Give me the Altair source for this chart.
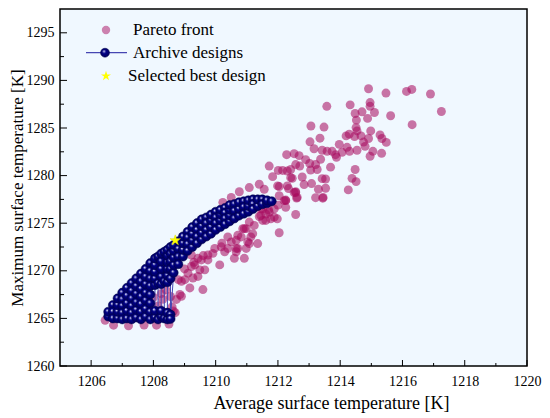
import altair as alt
import pandas as pd

# ---------------- data ----------------
pareto_x = [
    1214.91, 1215.47, 1216.13, 1216.30, 1216.90, 1217.25, 1216.31, 1215.62, 1213.57, 1214.32,
    1214.96, 1214.96, 1214.70, 1214.48, 1215.10, 1214.88, 1214.52, 1214.51, 1214.54, 1214.19,
    1214.29, 1214.46, 1214.67, 1214.98, 1215.28, 1215.34, 1215.48, 1214.91, 1214.75, 1214.80,
    1215.05, 1215.33, 1214.96, 1214.54, 1214.30, 1214.06, 1214.22, 1213.97, 1213.85, 1213.88,
    1213.74, 1213.58, 1213.42, 1213.16, 1213.03, 1213.35, 1213.06, 1213.48, 1213.37, 1213.69,
    1214.48, 1214.38, 1214.51, 1214.26, 1213.53, 1213.42, 1213.53, 1213.30, 1213.44, 1213.21,
    1213.08, 1212.84, 1212.78, 1212.57, 1212.60, 1212.57, 1212.25, 1212.25, 1212.34, 1212.46,
    1212.41, 1212.57, 1212.70, 1213.05, 1213.26, 1213.21, 1213.02, 1212.89, 1212.68, 1212.52,
    1212.28, 1212.15, 1212.01, 1212.04, 1212.04, 1211.98, 1212.04,
    1211.72, 1212.30, 1211.83, 1212.41, 1211.40, 1211.99, 1211.08, 1212.30, 1211.56, 1210.76,
    1212.52, 1212.20, 1211.88, 1211.61, 1211.24, 1211.19, 1211.35, 1210.66, 1210.98, 1210.60,
    1210.18, 1210.29, 1209.75, 1210.66, 1210.87, 1211.45, 1211.45, 1211.72,
    1212.25, 1212.62, 1212.57, 1213.45, 1211.77, 1211.88, 1211.61, 1211.51, 1211.08, 1210.98,
    1210.82, 1211.03,
    1211.13, 1211.08, 1210.71, 1210.66, 1210.92, 1210.50, 1210.13, 1209.75, 1209.43, 1209.22,
    1209.91, 1209.59, 1209.17, 1208.90, 1209.27, 1209.49, 1209.22, 1208.90, 1210.39, 1209.97,
    1210.71, 1210.39, 1210.92, 1211.51,
    1209.33, 1209.54, 1208.85, 1208.74, 1208.80, 1209.01, 1209.11, 1209.43, 1209.65, 1206.72,
    1207.20, 1208.10, 1208.64,
    1209.00, 1209.30, 1209.60, 1210.20, 1211.40, 1211.70, 1212.00, 1208.30, 1208.15, 1208.40,
    1208.25, 1208.60, 1208.55, 1208.70, 1207.70, 1208.50, 1206.45, 1210.50, 1210.23, 1208.00,
    1208.45,
]
pareto_y = [
    1289.12, 1288.67, 1288.84, 1289.05, 1288.57, 1286.73, 1285.35, 1286.29, 1287.28, 1287.43,
    1287.67, 1287.28, 1286.70, 1286.52, 1286.63, 1286.01, 1285.83, 1285.04, 1284.69, 1284.17,
    1284.35, 1284.11, 1284.17, 1284.69, 1284.27, 1283.90, 1283.49, 1283.90, 1283.52, 1283.07,
    1282.55, 1282.34, 1282.03, 1282.66, 1282.55, 1282.45, 1282.97, 1283.28, 1282.20, 1281.93,
    1282.55, 1282.55, 1282.66, 1282.82, 1283.55, 1283.93, 1285.21, 1285.10, 1281.72, 1280.89,
    1280.64, 1279.71, 1279.37, 1278.50, 1279.64, 1279.68, 1278.67, 1278.57, 1277.63, 1277.68,
    1279.16, 1279.06, 1279.85, 1278.30, 1277.64, 1275.91, 1277.43, 1276.67, 1278.64, 1279.71,
    1280.64, 1281.16, 1281.00, 1280.58, 1280.64, 1281.16, 1281.27, 1281.68, 1282.10, 1282.30,
    1282.20, 1280.54, 1280.54, 1278.85, 1277.88, 1275.46, 1274.00,
    1281.00, 1280.48, 1279.89, 1279.78, 1279.09, 1278.92, 1278.74, 1278.92, 1278.57, 1278.30,
    1278.22, 1277.37, 1276.50, 1275.29, 1274.77, 1273.90, 1272.86, 1273.21, 1272.35, 1271.31,
    1272.52, 1272.00, 1271.66, 1272.35, 1274.43, 1276.50, 1275.81, 1276.15,
    1277.37, 1277.71, 1278.22, 1277.71, 1275.46, 1275.63, 1275.97, 1276.50, 1275.12, 1274.43,
    1273.56, 1273.04,
    1273.56, 1272.86, 1272.35, 1272.00, 1271.31, 1273.04, 1270.62, 1271.14, 1271.31, 1271.66,
    1271.83, 1268.03, 1268.20, 1268.89, 1269.24, 1270.10, 1270.45, 1267.33, 1272.35, 1272.35,
    1273.73, 1273.56, 1274.43, 1275.29,
    1270.62, 1271.14, 1267.51, 1266.99, 1269.07, 1269.07, 1269.75, 1269.41, 1270.10, 1264.29,
    1264.22, 1264.29, 1265.78,
    1270.20, 1270.90, 1271.60, 1272.90, 1275.70, 1276.40, 1276.90, 1267.00, 1266.30, 1268.00,
    1267.60, 1266.20, 1267.30, 1265.60, 1264.30, 1264.40, 1264.80, 1277.71, 1277.19, 1267.20,
    1265.60,
]

# archive designs, in the order the connecting line visits them
archive_x = (
    [1206.55] * 2 + [1206.70] * 3 + [1206.85] * 4 + [1207.00] * 5 + [1207.15] * 5
    + [1207.30] * 6 + [1207.45] * 6 + [1207.60] * 7 + [1207.75] * 7 + [1207.90] * 8
    + [1208.05] * 7 + [1208.15] * 3 + [1208.25] * 7 + [1208.35] * 3 + [1208.45] * 8
    + [1208.55] * 7 + [1208.65] * 5 + [1208.80] * 4 + [1208.95] * 4 + [1209.10] * 4
    + [1209.25] * 4 + [1209.40] * 4 + [1209.55] * 4 + [1209.70] * 4 + [1209.85] * 4
    + [1210.00] * 4 + [1210.15] * 4 + [1210.30] * 4 + [1210.45] * 4 + [1210.60] * 3
    + [1210.75] * 3 + [1210.90] * 3 + [1211.05] * 3 + [1211.20] * 3 + [1211.35] * 2
    + [1211.50] * 2 + [1211.65] * 2 + [1211.80] * 1
)
archive_y = [
    1265.2, 1265.7,
    1266.4, 1265.7, 1265.0,
    1265.0, 1265.7, 1266.4, 1267.1,
    1267.7, 1267.0, 1266.3, 1265.6, 1264.9,
    1265.0, 1265.8, 1266.6, 1267.4, 1268.2,
    1268.7, 1267.9, 1267.1, 1266.3, 1265.6, 1264.9,
    1265.1, 1265.9, 1266.7, 1267.6, 1268.4, 1269.2,
    1269.7, 1268.9, 1268.1, 1267.3, 1266.5, 1265.7, 1264.9,
    1265.2, 1266.0, 1266.9, 1267.7, 1268.6, 1269.4, 1270.2,
    1270.8, 1270.0, 1269.2, 1268.4, 1267.5, 1266.6, 1265.7, 1264.9,
    1265.1, 1265.8, 1268.5, 1269.2, 1269.9, 1270.6, 1271.3,
    1271.5, 1268.7, 1264.9,
    1265.2, 1265.8, 1268.6, 1269.4, 1270.2, 1271.0, 1271.8,
    1272.0, 1268.9, 1265.0,
    1264.9, 1265.6, 1268.8, 1269.5, 1270.2, 1270.9, 1271.6, 1272.2,
    1272.5, 1271.8, 1271.0, 1270.2, 1269.2, 1265.4, 1264.95,
    1269.8, 1270.6, 1271.4, 1272.1, 1272.7,
    1273.1, 1272.3, 1271.5, 1270.7,
    1271.5, 1272.2, 1272.9, 1273.6,
    1274.1, 1273.5, 1272.8, 1272.1,
    1272.5, 1273.2, 1273.9, 1274.6,
    1275.0, 1274.3, 1273.6, 1272.9,
    1273.3, 1274.0, 1274.7, 1275.4,
    1275.6, 1275.0, 1274.3, 1273.6,
    1273.9, 1274.6, 1275.3, 1275.9,
    1276.2, 1275.6, 1275.0, 1274.3,
    1274.6, 1275.3, 1275.9, 1276.4,
    1276.6, 1276.1, 1275.5, 1274.9,
    1275.2, 1275.8, 1276.4, 1276.9,
    1277.0, 1276.3, 1275.5,
    1275.8, 1276.5, 1277.2,
    1277.3, 1276.7, 1276.0,
    1276.2, 1276.8, 1277.4,
    1277.5, 1277.0, 1276.5,
    1276.8, 1277.5,
    1277.5, 1277.0,
    1277.1, 1277.4,
    1277.3,
]

best_x = [1208.70]
best_y = [1273.20]

x_major = [1206, 1208, 1210, 1212, 1214, 1216, 1218, 1220]
x_minor = [1207, 1209, 1211, 1213, 1215, 1217, 1219]
y_major = [1260, 1265, 1270, 1275, 1280, 1285, 1290, 1295]
y_minor = [1262.5, 1267.5, 1272.5, 1277.5, 1282.5, 1287.5, 1292.5]

legend_labels = ["Pareto front", "Archive designs", "Selected best design"]

# ---------------- styling ----------------
W, H = 467, 357
SERIF = "Liberation Serif"
PINK = "#a80a5f"
LINE = "#4646b2"
STAR = "M0,-1L0.2245,-0.309L0.951,-0.309L0.3633,0.118L0.5878,0.809L0,0.382L-0.5878,0.809L-0.3633,0.118L-0.951,-0.309L-0.2245,-0.309Z"
NAVY_GRAD = {
    "gradient": "radial",
    "x1": 0.36, "y1": 0.32, "r1": 0,
    "x2": 0.5, "y2": 0.5, "r2": 0.5,
    "stops": [
        {"offset": 0.0, "color": "#ffffff"},
        {"offset": 0.15, "color": "#a0a0dc"},
        {"offset": 0.38, "color": "#000088"},
        {"offset": 1.0, "color": "#000060"},
    ],
}

xs = alt.Scale(domain=[1205, 1220], nice=False, zero=False)
ys = alt.Scale(domain=[1260, 1297.5], nice=False, zero=False)

x_axis = alt.Axis(
    values=x_major, format="d", title="Average surface temperature [K]",
    ticks=False, domain=False, grid=False, labelPadding=8, labelFontSize=14,
    labelFlush=False, labelOverlap=False, titleFontSize=18, titleFontWeight="normal",
    titlePadding=6, titleX=271,
)
y_axis = alt.Axis(
    values=y_major, format="d", title="Maximum surface temperature [K]",
    ticks=False, domain=False, grid=False, labelPadding=6, labelFontSize=14,
    labelFlush=False, labelOverlap=False, titleFontSize=17, titleFontWeight="normal",
    titlePadding=0,
)


def X(field):
    return alt.X(field, scale=xs, axis=x_axis)


def Y(field):
    return alt.Y(field, scale=ys, axis=y_axis)


pareto_df = pd.DataFrame({"x": pareto_x, "y": pareto_y})
archive_df = pd.DataFrame({"x": archive_x, "y": archive_y, "o": list(range(len(archive_x)))})
best_df = pd.DataFrame({"x": best_x, "y": best_y})

pareto = alt.Chart(pareto_df).mark_circle(size=80, color=PINK, opacity=0.56).encode(
    x=X("x:Q"), y=Y("y:Q"),
)
archive_line = alt.Chart(archive_df).mark_line(color=LINE, strokeWidth=1).encode(
    x=X("x:Q"), y=Y("y:Q"), order="o:Q",
)
archive_pts = alt.Chart(archive_df).mark_circle(
    size=84, fill=NAVY_GRAD, stroke="#00004a", strokeWidth=0.5, opacity=1
).encode(x=X("x:Q"), y=Y("y:Q"))
best = alt.Chart(best_df).mark_point(
    shape=STAR, size=120, filled=True, fill="#ffff00", stroke="#e0e000", strokeWidth=0.5, opacity=1
).encode(x=X("x:Q"), y=Y("y:Q"))

# inward tick marks
xt_major = alt.Chart(pd.DataFrame({"x": x_major})).mark_rule(color="black", strokeWidth=1).encode(
    x=X("x:Q"), y=alt.value(H), y2=alt.value(H - 6))
xt_minor = alt.Chart(pd.DataFrame({"x": x_minor})).mark_rule(color="black", strokeWidth=1).encode(
    x=X("x:Q"), y=alt.value(H), y2=alt.value(H - 3))
yt_major = alt.Chart(pd.DataFrame({"y": y_major})).mark_rule(color="black", strokeWidth=1).encode(
    y=Y("y:Q"), x=alt.value(0), x2=alt.value(7))
yt_minor = alt.Chart(pd.DataFrame({"y": y_minor})).mark_rule(color="black", strokeWidth=1).encode(
    y=Y("y:Q"), x=alt.value(0), x2=alt.value(4))

# legend (drawn inside the plot, upper left)
one = pd.DataFrame({"k": [0]})
leg_pink = alt.Chart(one).mark_circle(size=70, color=PINK, opacity=0.5).encode(
    x=alt.value(46), y=alt.value(21))
leg_line = alt.Chart(one).mark_rule(color=LINE, strokeWidth=1.2).encode(
    x=alt.value(26), x2=alt.value(67), y=alt.value(43.7))
leg_navy = alt.Chart(one).mark_circle(
    size=80, fill=NAVY_GRAD, stroke="#00004a", strokeWidth=0.5, opacity=1).encode(
    x=alt.value(45), y=alt.value(43.7))
leg_star = alt.Chart(one).mark_point(
    shape=STAR, size=110, filled=True, fill="#ffff00", strokeWidth=0, opacity=1).encode(
    x=alt.value(46), y=alt.value(67))


def leg_text(label, xpos, ypos):
    return alt.Chart(one).mark_text(
        align="left", baseline="middle", font=SERIF, fontSize=17, color="black"
    ).encode(x=alt.value(xpos), y=alt.value(ypos), text=alt.value(label))


chart = alt.layer(
    pareto, archive_line, archive_pts, best,
    xt_major, xt_minor, yt_major, yt_minor,
    leg_pink, leg_line, leg_navy, leg_star,
    leg_text(legend_labels[0], 73, 21),
    leg_text(legend_labels[1], 73, 44),
    leg_text(legend_labels[2], 68, 67),
).properties(
    width=W, height=H,
    autosize=alt.AutoSizeParams(type="none"),
    padding={"left": 52, "top": 1, "right": 15, "bottom": 50},
    background="white",
).configure(
    font=SERIF,
).configure_axis(
    labelFont=SERIF, titleFont=SERIF, labelColor="black", titleColor="black",
).configure_view(
    fill="#F0F8FF", stroke="black", strokeWidth=1.5,
)

chart.save("out.html", embed_options={"renderer": "svg", "actions": False})
